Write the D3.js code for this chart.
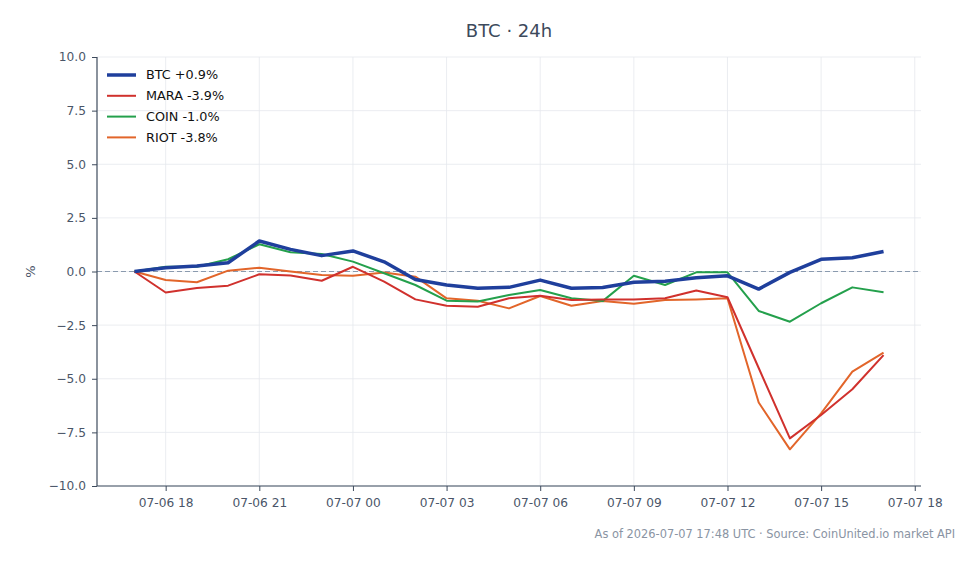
<!DOCTYPE html>
<html>
<head>
<meta charset="utf-8">
<script src="https://cdn.jsdelivr.net/npm/d3@7"></script>
<style>
  body { margin: 0; background: #fff; }
  svg { font-family: "DejaVu Sans", sans-serif; }
</style>
</head>
<body>
<div id="chart"></div>
<script>
// hourly points, 07-06 17:00 .. 07-07 17:00 (UTC)
var startTime = "2026-07-06T17:00:00Z";
var hours = d3.range(25);

var btc  = [0, 0.18, 0.26, 0.41, 1.42, 1.03, 0.74, 0.96, 0.45, -0.37, -0.63, -0.78, -0.74, -0.4, -0.78, -0.75, -0.5, -0.45, -0.29, -0.2, -0.82, -0.04, 0.57, 0.64, 0.93];
var mara = [0, -0.98, -0.77, -0.66, -0.13, -0.19, -0.43, 0.22, -0.47, -1.3, -1.6, -1.64, -1.25, -1.13, -1.33, -1.3, -1.3, -1.25, -0.89, -1.2, -4.5, -7.78, -6.69, -5.49, -3.9];
var coin = [0, 0.22, 0.22, 0.57, 1.27, 0.9, 0.82, 0.46, -0.08, -0.63, -1.36, -1.4, -1.1, -0.86, -1.25, -1.38, -0.2, -0.63, -0.04, -0.04, -1.84, -2.34, -1.48, -0.74, -0.97];
var riot = [0, -0.4, -0.5, 0.04, 0.18, 0, -0.16, -0.2, -0.05, -0.24, -1.25, -1.36, -1.72, -1.14, -1.6, -1.38, -1.5, -1.33, -1.3, -1.25, -6.11, -8.29, -6.61, -4.67, -3.78];

var seriesNames = ["BTC +0.9%", "MARA -3.9%", "COIN -1.0%", "RIOT -3.8%"];
var seriesColors = ["#1f3f9c", "#d0312d", "#24a04c", "#e2652a"];
var seriesWidths = [3.5, 2, 2, 2];
var yTicks = [-10, -7.5, -5, -2.5, 0, 2.5, 5, 7.5, 10];

var width = 978, height = 564;
var margin = {top: 57, right: 57, bottom: 78, left: 97};

var t0 = new Date(startTime);
var times = hours.map(function(h) { return new Date(t0.getTime() + h * 3600e3); });

var svg = d3.select("#chart").append("svg")
    .attr("width", width)
    .attr("height", height);

// 5% padding on each side, like matplotlib
var pad = 1.2 * 3600e3;
var x = d3.scaleUtc()
    .domain([new Date(times[0].getTime() - pad), new Date(times[24].getTime() + pad)])
    .range([margin.left, width - margin.right]);

var y = d3.scaleLinear()
    .domain([-10, 10])
    .range([height - margin.bottom, margin.top]);

var xTicks = d3.range(0, 9).map(function(i) {
  return new Date(Date.UTC(2026, 6, 6, 18) + i * 3 * 3600e3);
});
var fmt = d3.utcFormat("%m-%d %H");

// grid
svg.append("g").selectAll("line.gx")
    .data(xTicks).enter().append("line")
    .attr("x1", function(d) { return x(d); })
    .attr("x2", function(d) { return x(d); })
    .attr("y1", margin.top)
    .attr("y2", height - margin.bottom)
    .attr("stroke", "#e6e9ee")
    .attr("stroke-width", 0.8);

svg.append("g").selectAll("line.gy")
    .data(yTicks).enter().append("line")
    .attr("x1", margin.left)
    .attr("x2", width - margin.right)
    .attr("y1", function(d) { return y(d); })
    .attr("y2", function(d) { return y(d); })
    .attr("stroke", "#e6e9ee")
    .attr("stroke-width", 0.8);

// zero line
svg.append("line")
    .attr("x1", margin.left)
    .attr("x2", width - margin.right)
    .attr("y1", y(0))
    .attr("y2", y(0))
    .attr("stroke", "#8a9aae")
    .attr("stroke-width", 1)
    .attr("stroke-dasharray", "5,3");

// axes
var xAxis = svg.append("g")
    .attr("transform", "translate(0," + (height - margin.bottom) + ")")
    .call(d3.axisBottom(x).tickValues(xTicks).tickFormat(fmt).tickSize(5).tickPadding(7));

var yAxis = svg.append("g")
    .attr("transform", "translate(" + margin.left + ",0)")
    .call(d3.axisLeft(y).tickValues(yTicks).tickFormat(d3.format(".1f")).tickSize(5).tickPadding(6));

[xAxis, yAxis].forEach(function(a) {
  a.select(".domain").attr("stroke", "#3d4a5c").attr("stroke-width", 1.2);
  a.selectAll(".tick line").attr("stroke", "#3d4a5c");
  a.selectAll(".tick text")
    .attr("fill", "#4a5568")
    .attr("font-size", 12.2)
    .attr("font-family", "DejaVu Sans");
});
// keep the spines only over the plot area
xAxis.select(".domain").attr("d", "M" + margin.left + ",0H" + (width - margin.right));
yAxis.select(".domain").attr("d", "M0," + margin.top + "V" + (height - margin.bottom));

// lines
var allSeries = [riot, coin, mara, btc];
var order = [3, 2, 1, 0];
var line = d3.line()
    .x(function(d, i) { return x(times[i]); })
    .y(function(d) { return y(d); });

svg.append("g").selectAll("path.series")
    .data(allSeries).enter().append("path")
    .attr("class", "series")
    .attr("d", line)
    .attr("fill", "none")
    .attr("stroke", function(d, i) { return seriesColors[order[i]]; })
    .attr("stroke-width", function(d, i) { return seriesWidths[order[i]]; })
    .attr("stroke-linejoin", "round");

// legend
var legend = svg.append("g")
    .attr("transform", "translate(107,75)");
var item = legend.selectAll("g")
    .data(seriesNames).enter().append("g")
    .attr("transform", function(d, i) { return "translate(0," + (i * 20.8) + ")"; });
item.append("line")
    .attr("x1", 0).attr("x2", 29)
    .attr("stroke", function(d, i) { return seriesColors[i]; })
    .attr("stroke-width", function(d, i) { return seriesWidths[i]; });
item.append("text")
    .attr("x", 39)
    .attr("dy", "0.35em")
    .attr("font-size", 12.8)
    .attr("fill", "#111")
    .text(function(d) { return d; });

// title
svg.append("text")
    .attr("x", (margin.left + width - margin.right) / 2)
    .attr("y", 37)
    .attr("text-anchor", "middle")
    .attr("font-size", 18)
    .attr("fill", "#3d4a5c")
    .text("BTC · 24h");

// y label
svg.append("text")
    .attr("transform", "translate(35," + y(0) + ") rotate(-90)")
    .attr("text-anchor", "middle")
    .attr("font-size", 13)
    .attr("fill", "#4a5568")
    .text("%");

// footer
svg.append("text")
    .attr("x", 955)
    .attr("y", 538)
    .attr("text-anchor", "end")
    .attr("font-size", 11.4)
    .attr("fill", "#8a94a3")
    .text("As of 2026-07-07 17:48 UTC · Source: CoinUnited.io market API");
</script>
</body>
</html>
